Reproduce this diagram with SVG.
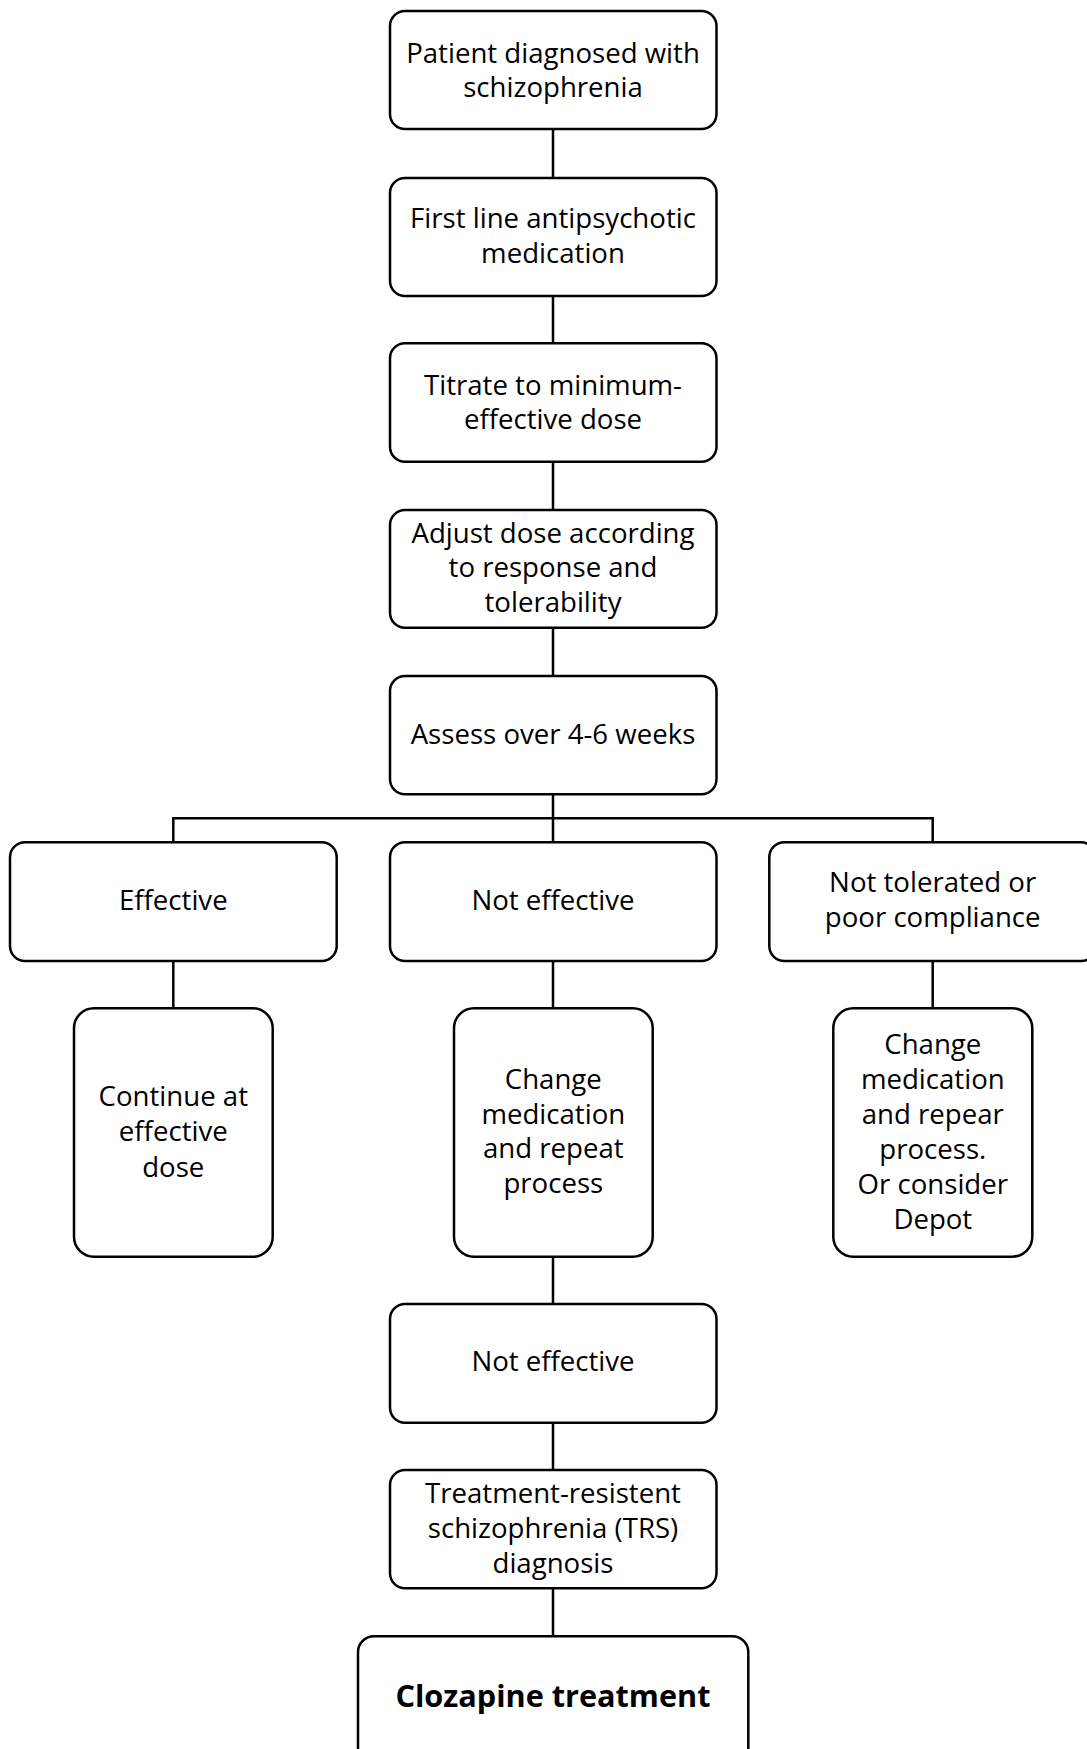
<svg xmlns="http://www.w3.org/2000/svg" width="1087" height="1749" viewBox="0 0 1087 1749">
<style>
.box{fill:#fff;stroke:#000;stroke-width:2.5}
.t{font-family:"Open Sans","Liberation Sans",sans-serif;font-size:27.6px;fill:#000;text-anchor:middle}
.b{font-family:"Open Sans","Liberation Sans",sans-serif;font-size:31px;font-weight:bold;fill:#000;text-anchor:middle}
.c{fill:none;stroke:#000;stroke-width:2.5}
</style>
<rect width="1087" height="1749" fill="#fff"/>
<g id="connectors">
<path class="c" d="M553,129V178M553,296V343M553,461.7V510M553,627.7V676M553,794V842M173.3,818.3H932.7M173.3,817V842M932.7,817V842M173.3,961V1008M553,961V1008M932.7,961V1008M553,1256.7V1304M553,1422.7V1470M553,1588V1636"/>
</g>
<g id="n1"><rect class="box" x="390" y="11" width="326.5" height="118" rx="15"/><text class="t" x="553" y="62.5">Patient diagnosed with</text><text class="t" x="553" y="97">schizophrenia</text></g>
<g id="n2"><rect class="box" x="390" y="178" width="326.5" height="118" rx="15"/><text class="t" x="553" y="228">First line antipsychotic</text><text class="t" x="553" y="262.5">medication</text></g>
<g id="n3"><rect class="box" x="390" y="343.3" width="326.5" height="118.4" rx="15"/><text class="t" x="553" y="394.5">Titrate to minimum-</text><text class="t" x="553" y="429">effective dose</text></g>
<g id="n4"><rect class="box" x="390" y="510" width="326.5" height="117.7" rx="15"/><text class="t" x="553" y="542.5">Adjust dose according</text><text class="t" x="553" y="577">to response and</text><text class="t" x="553" y="611.5">tolerability</text></g>
<g id="n5"><rect class="box" x="390" y="676" width="326.5" height="118.3" rx="15"/><text class="t" x="553" y="743.5">Assess over 4-6 weeks</text></g>
<g id="n6"><rect class="box" x="10" y="842.3" width="326.7" height="118.7" rx="15"/><text class="t" x="173.3" y="909.5">Effective</text></g>
<g id="n7"><rect class="box" x="390" y="842.3" width="326.5" height="118.7" rx="15"/><text class="t" x="553" y="909.5">Not effective</text></g>
<g id="n8"><rect class="box" x="769.3" y="842.3" width="326.7" height="118.7" rx="15"/><text class="t" x="932.7" y="892">Not tolerated or</text><text class="t" x="932.7" y="927">poor compliance</text></g>
<g id="n9"><rect class="box" x="74" y="1008.3" width="198.7" height="248.4" rx="20"/><text class="t" x="173.3" y="1106">Continue at</text><text class="t" x="173.3" y="1141">effective</text><text class="t" x="173.3" y="1176.5">dose</text></g>
<g id="n10"><rect class="box" x="454" y="1008.3" width="198.7" height="248.4" rx="20"/><text class="t" x="553.3" y="1088.5">Change</text><text class="t" x="553.3" y="1123.5">medication</text><text class="t" x="553.3" y="1158">and repeat</text><text class="t" x="553.3" y="1192.5">process</text></g>
<g id="n11"><rect class="box" x="833.3" y="1008.3" width="199" height="248.4" rx="20"/><text class="t" x="932.8" y="1053.5">Change</text><text class="t" x="932.8" y="1088.5">medication</text><text class="t" x="932.8" y="1123.5">and repear</text><text class="t" x="932.8" y="1159">process.</text><text class="t" x="932.8" y="1193.5">Or consider</text><text class="t" x="932.8" y="1228.5">Depot</text></g>
<g id="n12"><rect class="box" x="390" y="1304" width="326.5" height="118.7" rx="15"/><text class="t" x="553" y="1371">Not effective</text></g>
<g id="n13"><rect class="box" x="390" y="1470" width="326.5" height="118.3" rx="15"/><text class="t" x="553" y="1503.3">Treatment-resistent</text><text class="t" x="553" y="1538.3">schizophrenia (TRS)</text><text class="t" x="553" y="1573.3">diagnosis</text></g>
<g id="n14"><rect class="box" x="358" y="1636.3" width="390.3" height="140" rx="16"/><text class="b" x="553" y="1706.7" textLength="315" lengthAdjust="spacingAndGlyphs">Clozapine treatment</text></g>
</svg>
